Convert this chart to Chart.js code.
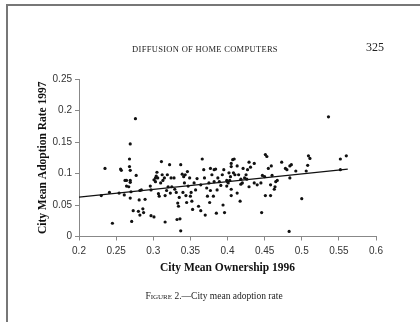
<!DOCTYPE html>
<html><head><meta charset="utf-8">
<script src="https://cdn.jsdelivr.net/npm/chart.js@4"></script>
<style>
html,body{margin:0;padding:0;background:#fff;}
#page{position:relative;width:420px;height:322px;overflow:hidden;background:#fff;}
#frame{position:absolute;left:6px;top:4px;width:430px;height:340px;border-left:2px solid #777;border-top:2px solid #777;box-sizing:border-box;}
canvas{position:absolute;left:0;top:0;}
.t{position:absolute;font-family:"Liberation Serif","Times New Roman",serif;color:#222;white-space:nowrap;text-align:center;line-height:1;}
</style></head>
<body>
<div id="page">
<div id="frame"></div>
<canvas id="c" width="420" height="322"></canvas>
<div class="t" style="left:105px;width:200px;top:45px;font-size:8.5px;letter-spacing:0.3px;">DIFFUSION OF HOME COMPUTERS</div>
<div class="t" style="left:355px;width:40px;top:41px;font-size:12px;">325</div>
<div class="t" style="left:114px;width:200px;top:292px;font-size:9.5px;"><span style="font-variant:small-caps">Figure</span> 2.—City mean adoption rate</div>
</div>
<script>
const ownership1996 = [
0.235,0.230,0.241,0.245,0.256,0.257,0.254,0.261,0.262,0.264,0.269,0.264,0.267,0.269,0.268,0.268,0.269,0.269,0.270,0.269,
0.271,0.273,0.276,0.277,0.280,0.282,0.281,0.282,0.284,0.286,0.287,0.289,0.296,0.297,0.297,0.301,0.301,0.303,0.303,0.304,
0.305,0.306,0.307,0.308,0.310,0.311,0.312,0.313,0.315,0.316,0.316,0.318,0.319,0.320,0.322,0.323,0.324,0.325,0.328,0.329,
0.331,0.332,0.333,0.334,0.335,0.336,0.337,0.337,0.339,0.340,0.341,0.342,0.343,0.344,0.345,0.346,0.347,0.349,0.350,0.351,
0.352,0.353,0.355,0.357,0.359,0.361,0.364,0.364,0.366,0.368,0.369,0.370,0.372,0.373,0.375,0.376,0.377,0.379,0.381,0.382,
0.384,0.385,0.387,0.389,0.391,0.393,0.394,0.395,0.396,0.399,0.401,0.402,0.536,0.407,0.409,0.405,0.405,0.413,0.421,0.429,
0.436,0.431,0.427,0.425,0.423,0.426,0.418,0.415,0.410,0.408,0.404,0.403,0.400,0.399,0.405,0.413,0.405,0.417,0.418,0.420,
0.429,0.436,0.440,0.445,0.447,0.450,0.451,0.453,0.455,0.459,0.460,0.458,0.463,0.464,0.465,0.467,0.451,0.458,0.446,0.473,
0.478,0.480,0.484,0.486,0.484,0.492,0.500,0.483,0.506,0.509,0.511,0.508,0.552,0.560,0.552,0.386,0.382,0.377
];
const adoption1997 = [
0.108,0.065,0.070,0.021,0.107,0.105,0.069,0.066,0.089,0.089,0.089,0.080,0.079,0.147,0.123,0.111,0.105,0.086,0.071,0.061,
0.024,0.041,0.187,0.097,0.040,0.073,0.058,0.034,0.074,0.044,0.038,0.059,0.080,0.074,0.033,0.031,0.090,0.093,0.087,0.096,
0.102,0.093,0.068,0.064,0.085,0.119,0.098,0.089,0.093,0.023,0.065,0.073,0.098,0.079,0.114,0.069,0.093,0.079,0.093,0.075,
0.070,0.027,0.053,0.048,0.062,0.028,0.114,0.009,0.099,0.070,0.095,0.085,0.098,0.065,0.054,0.103,0.080,0.093,0.064,0.070,
0.056,0.043,0.085,0.074,0.092,0.048,0.041,0.082,0.123,0.106,0.093,0.034,0.077,0.064,0.085,0.054,0.073,0.098,0.064,0.106,
0.107,0.037,0.093,0.087,0.081,0.098,0.050,0.106,0.038,0.089,0.085,0.101,0.190,0.122,0.123,0.116,0.111,0.112,0.108,0.118,
0.116,0.110,0.106,0.098,0.093,0.091,0.091,0.098,0.098,0.101,0.095,0.089,0.087,0.080,0.075,0.069,0.065,0.056,0.083,0.085,
0.079,0.085,0.082,0.085,0.097,0.095,0.130,0.127,0.108,0.112,0.097,0.082,0.075,0.079,0.087,0.089,0.065,0.065,0.038,0.118,
0.108,0.106,0.112,0.114,0.093,0.104,0.060,0.008,0.104,0.128,0.124,0.113,0.123,0.128,0.106,0.074,0.087,0.108
];
const trendX = [0.2, 0.562];
const trendY = [0.0625, 0.107];
const xTickValues = [0.2,0.25,0.3,0.35,0.4,0.45,0.5,0.55,0.6];
const yTickValues = [0,0.05,0.1,0.15,0.2,0.25];
const xTitle = 'City Mean Ownership 1996';
const yTitle = 'City Mean Adoption Rate 1997';

const pts = ownership1996.map((x,i)=>({x:x,y:adoption1997[i]}));
const trend = trendX.map((x,i)=>({x:x,y:trendY[i]}));
const fmt = v => String(+Number(v).toFixed(2));
const axisCommon = {
  grid:{display:true,drawOnChartArea:false,drawTicks:true,tickLength:4,color:'#888',lineWidth:1},
  border:{display:true,color:'#888',width:1},
};
const titleFont = {family:'"Liberation Serif", "Times New Roman", serif',size:11.5,weight:'bold',lineHeight:1.2};
new Chart(document.getElementById('c'), {
  type:'scatter',
  data:{datasets:[
    {data:pts,pointRadius:1.6,pointBackgroundColor:'#111',pointBorderWidth:0,pointStyle:'circle'},
    {data:trend,showLine:true,pointRadius:0,borderColor:'#111',borderWidth:1.3}
  ]},
  options:{
    responsive:false,animation:false,devicePixelRatio:1,
    layout:{padding:{left:32.3,top:79,right:44,bottom:43.1}},
    plugins:{legend:{display:false},tooltip:{enabled:false}},
    scales:{
      x:Object.assign({type:'linear',min:0.2,max:0.6,
        afterFit:s=>{s.height=42.4;},
        afterBuildTicks:s=>{s.ticks=xTickValues.map(v=>({value:v}));},
        ticks:{padding:5,color:'#333',font:{family:'"Liberation Sans", Arial, sans-serif',size:10},callback:fmt,maxRotation:0,autoSkip:false},
        title:{display:true,text:xTitle,color:'#111',padding:{top:4,bottom:4},font:titleFont}
      },axisCommon),
      y:Object.assign({type:'linear',min:0,max:0.25,
        afterFit:s=>{s.width=46.7;},
        afterBuildTicks:s=>{s.ticks=yTickValues.map(v=>({value:v}));},
        ticks:{padding:3,color:'#333',font:{family:'"Liberation Sans", Arial, sans-serif',size:10},callback:fmt,autoSkip:false},
        title:{display:true,text:yTitle,color:'#111',padding:{top:4,bottom:4},font:titleFont}
      },axisCommon)
    }
  }
});
</script>
</body></html>
